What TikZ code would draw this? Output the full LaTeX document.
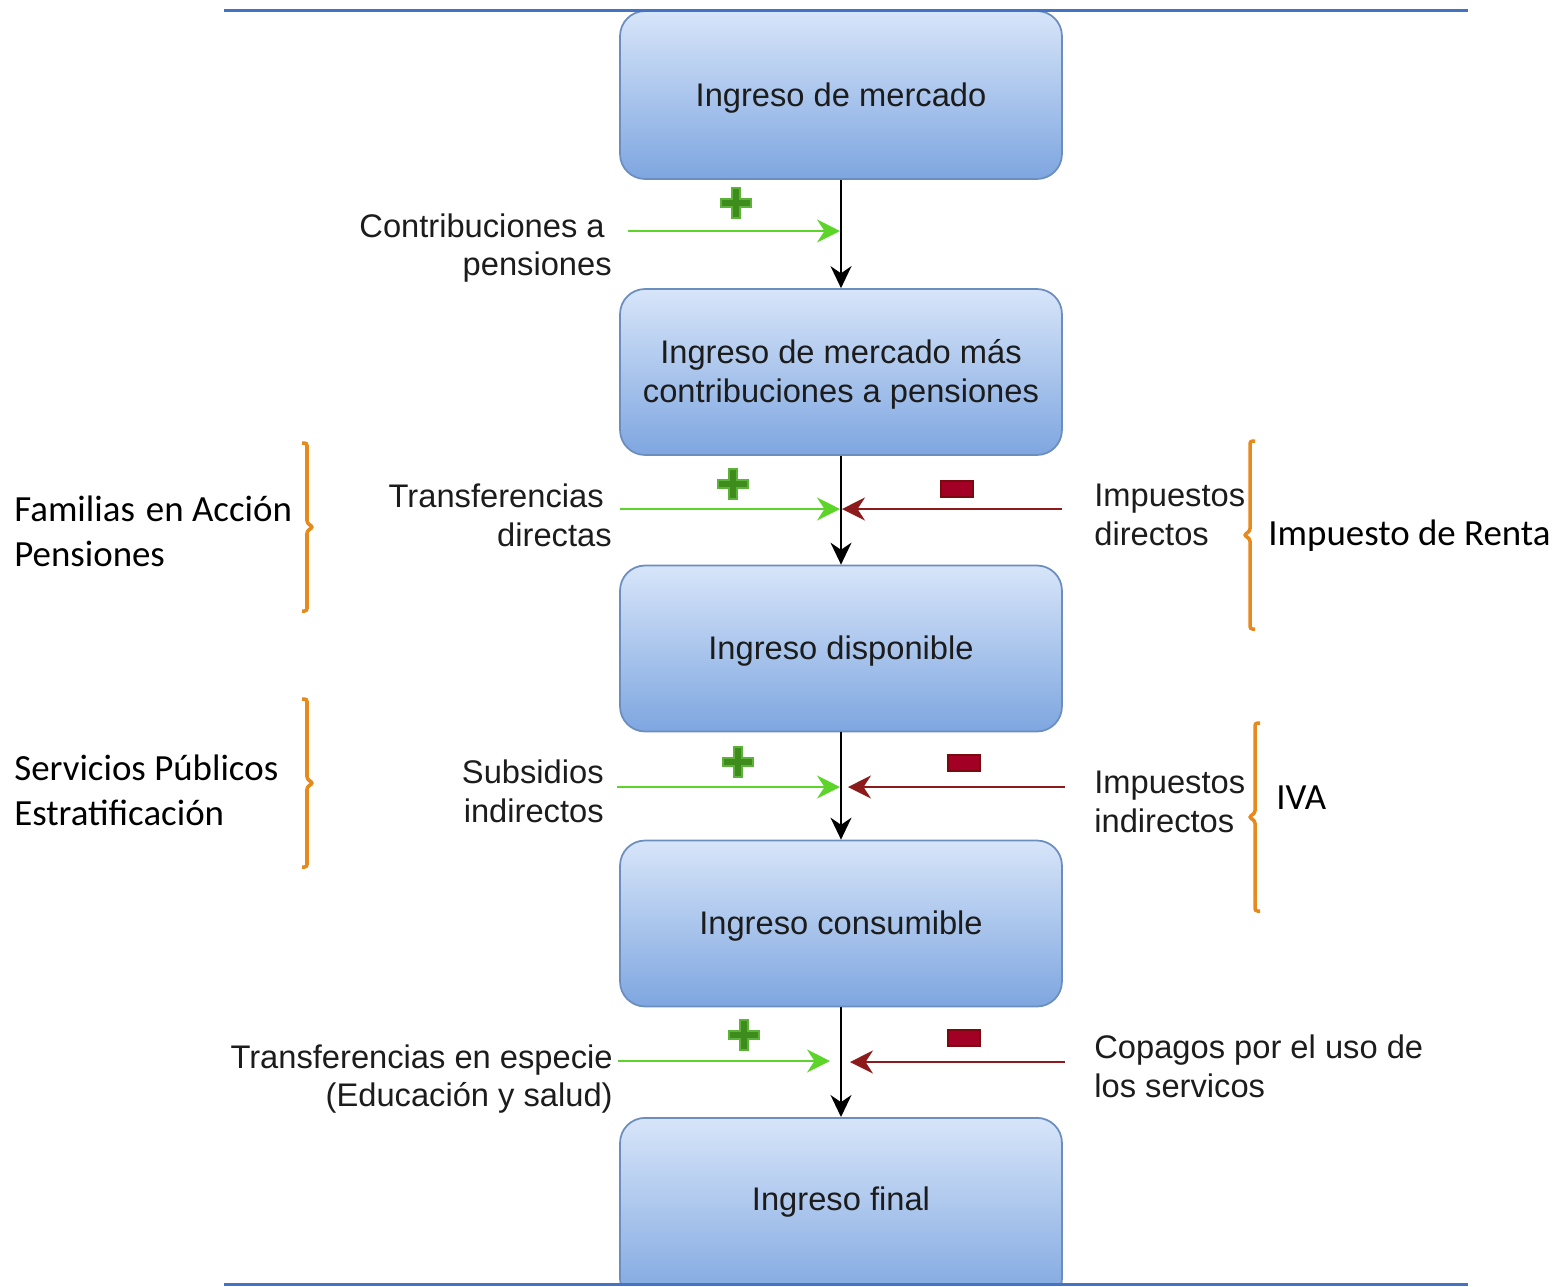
\documentclass[tikz,border=0pt]{standalone}
\usepackage{fontspec}
\setmainfont{Liberation Sans}
\newfontfamily\calib{Carlito}
\usetikzlibrary{arrows.meta}
\definecolor{boxtop}{HTML}{D7E5F9}
\definecolor{boxbot}{HTML}{7EA6E0}
\definecolor{boxline}{HTML}{6C8EBF}
\definecolor{plusgreen}{HTML}{3D8C1C}
\definecolor{plusedge}{HTML}{5DB33A}
\definecolor{arrgreen}{HTML}{5CD42A}
\definecolor{minusred}{HTML}{A20025}
\definecolor{minusedge}{HTML}{7A0A10}
\definecolor{arrred}{HTML}{8E1B1B}
\definecolor{braceor}{HTML}{E8891C}
\definecolor{rulecol}{HTML}{4472C4}
\definecolor{txt}{HTML}{1C1C1C}
\newcommand\lowr[1]{\raisebox{-0.07cm}[\height][\depth]{\begin{tabular}{@{}c@{}}#1\end{tabular}}}
\begin{document}
\begin{tikzpicture}[x=0.02cm,y=-0.02cm,
  box/.style={draw=boxline, line width=1pt, rounded corners=0.5cm,
    top color=boxtop, bottom color=boxbot, minimum width=8.84cm,
    minimum height=3.32cm, font=\fontsize{18.6}{22.1}\selectfont,
    text=txt, align=center, inner sep=0pt},
  lab/.style={font=\fontsize{18.6}{22.1}\selectfont, inner sep=0pt, text=txt},
  cal/.style={font=\calib\fontsize{21}{25.5}\selectfont, inner sep=0pt, text=black, align=left},
  vert/.style={draw=black, line width=1.1pt, -{Stealth[length=0.44cm,width=0.42cm]}},
  garr/.style={draw=arrgreen, line width=1.1pt, -{Stealth[length=0.46cm,width=0.46cm]}},
  rarr/.style={draw=arrred, line width=1.1pt, -{Stealth[length=0.46cm,width=0.46cm]}},
  brc/.style={draw=braceor, line width=2pt, rounded corners=0.05cm},
  rulest/.style={draw=rulecol, line width=1.7pt},
  plussign/.pic={
    \draw[fill=plusgreen, draw=plusedge, line width=0.6pt]
      (-15,-4) -- (-4,-4) -- (-4,-15) -- (4,-15) -- (4,-4) -- (15,-4)
      -- (15,4) -- (4,4) -- (4,15) -- (-4,15) -- (-4,4) -- (-15,4) -- cycle;
  },
  minussign/.pic={
    \draw[fill=minusred, draw=minusedge, line width=0.6pt] (-16,-8) rectangle (16,8);
  }
]
\useasboundingbox (0,0) rectangle (1560,1286);

% boxes
\node[box, minimum height=3.36cm] (b1) at (841,95) {\lowr{Ingreso de mercado}};
\node[box] (b2) at (841,372) {\lowr{Ingreso de mercado más\\contribuciones a pensiones}};
\node[box] (b3) at (841,648.5) {\lowr{Ingreso disponible}};
\node[box] (b4) at (841,923.5) {\lowr{Ingreso consumible}};
\begin{scope}
  \clip (0,0) rectangle (1560,1283);
  \node[box, minimum height=3.72cm, anchor=north] (b5) at (841,1117) {};
\end{scope}
\node[lab] (b5t) at (841,1202) {Ingreso final};

% rules
\coordinate (r1a) at (224,10); \coordinate (r1b) at (1468,10);
\coordinate (r2a) at (224,1284); \coordinate (r2b) at (1468,1284);
\draw[rulest] (r1a) -- (r1b);
\draw[rulest] (r2a) -- (r2b);

% vertical arrows
\draw[vert] (b1.south) -- (b2.north);
\draw[vert] (b2.south) -- (b3.north);
\draw[vert] (b3.south) -- (b4.north);
\draw[vert] (b4.south) -- (b5.north);

% horizontal arrows
\coordinate (g1s) at (628,231); \coordinate (g1e) at (840,231);
\coordinate (g2s) at (620,509); \coordinate (g2e) at (840,509);
\coordinate (g3s) at (617,787); \coordinate (g3e) at (840,787);
\coordinate (g4s) at (618,1061); \coordinate (g4e) at (830,1061);
\coordinate (r2s) at (1062,509); \coordinate (r2e) at (842,509);
\coordinate (r3s) at (1065,787); \coordinate (r3e) at (848,787);
\coordinate (r4s) at (1065,1062); \coordinate (r4e) at (850,1062);
\draw[garr] (g1s) -- (g1e);
\draw[garr] (g2s) -- (g2e);
\draw[garr] (g3s) -- (g3e);
\draw[garr] (g4s) -- (g4e);
\draw[rarr] (r2s) -- (r2e);
\draw[rarr] (r3s) -- (r3e);
\draw[rarr] (r4s) -- (r4e);

% plus / minus
\pic at (736,203) {plussign};
\pic at (733,484) {plussign};
\pic at (738,762) {plussign};
\pic at (744,1035) {plussign};
\pic at (957,489) {minussign};
\pic at (964,763) {minussign};
\pic at (964,1038) {minussign};

% left flow labels
\node[lab, align=right, anchor=east] (l1) at (612,248) {Contribuciones a\hspace*{0.14cm}\\pensiones};
\node[lab, align=right, anchor=east] (l2) at (612,515) {Transferencias\hspace*{0.16cm}\\directas};
\node[lab, align=right, anchor=east] (l3) at (604,791) {Subsidios\\indirectos};
\node[lab, align=right, anchor=east] (l4) at (613,1079) {Transferencias en especie\\(Educación y salud)};

% right flow labels
\node[lab, align=left, anchor=west] (r2l) at (1094,515) {Impuestos\\directos};
\node[lab, align=left, anchor=west] (r3l) at (1094,802) {Impuestos\\indirectos};
\node[lab, align=left, anchor=west] (r4l) at (1094,1066) {Copagos por el uso de\\los servicos};

% outer labels
\node[cal, anchor=west] (c1) at (14,531) {Familias\hspace{0.3em}en Acción\\Pensiones};
\node[cal, anchor=west] (c2) at (14,790) {Servicios Públicos\\Estratificación};
\node[cal, anchor=west] (c3) at (1268,536) {Impuesto de Renta};
\node[cal, anchor=west] (c4) at (1276,798) {IVA};

% braces
\draw[brc] (302,443) -- (307,443) -- (307,523) -- (313,527) -- (307,531) -- (307,611) -- (302,611);
\draw[brc] (302,699) -- (307,699) -- (307,779) -- (313,783) -- (307,787) -- (307,867) -- (302,867);
\draw[brc] (1255,441) -- (1250,441) -- (1250,531) -- (1244,535) -- (1250,539) -- (1250,629) -- (1255,629);
\draw[brc] (1260,723) -- (1255,723) -- (1255,813) -- (1249,817) -- (1255,821) -- (1255,911) -- (1260,911);
\end{tikzpicture}
\end{document}
